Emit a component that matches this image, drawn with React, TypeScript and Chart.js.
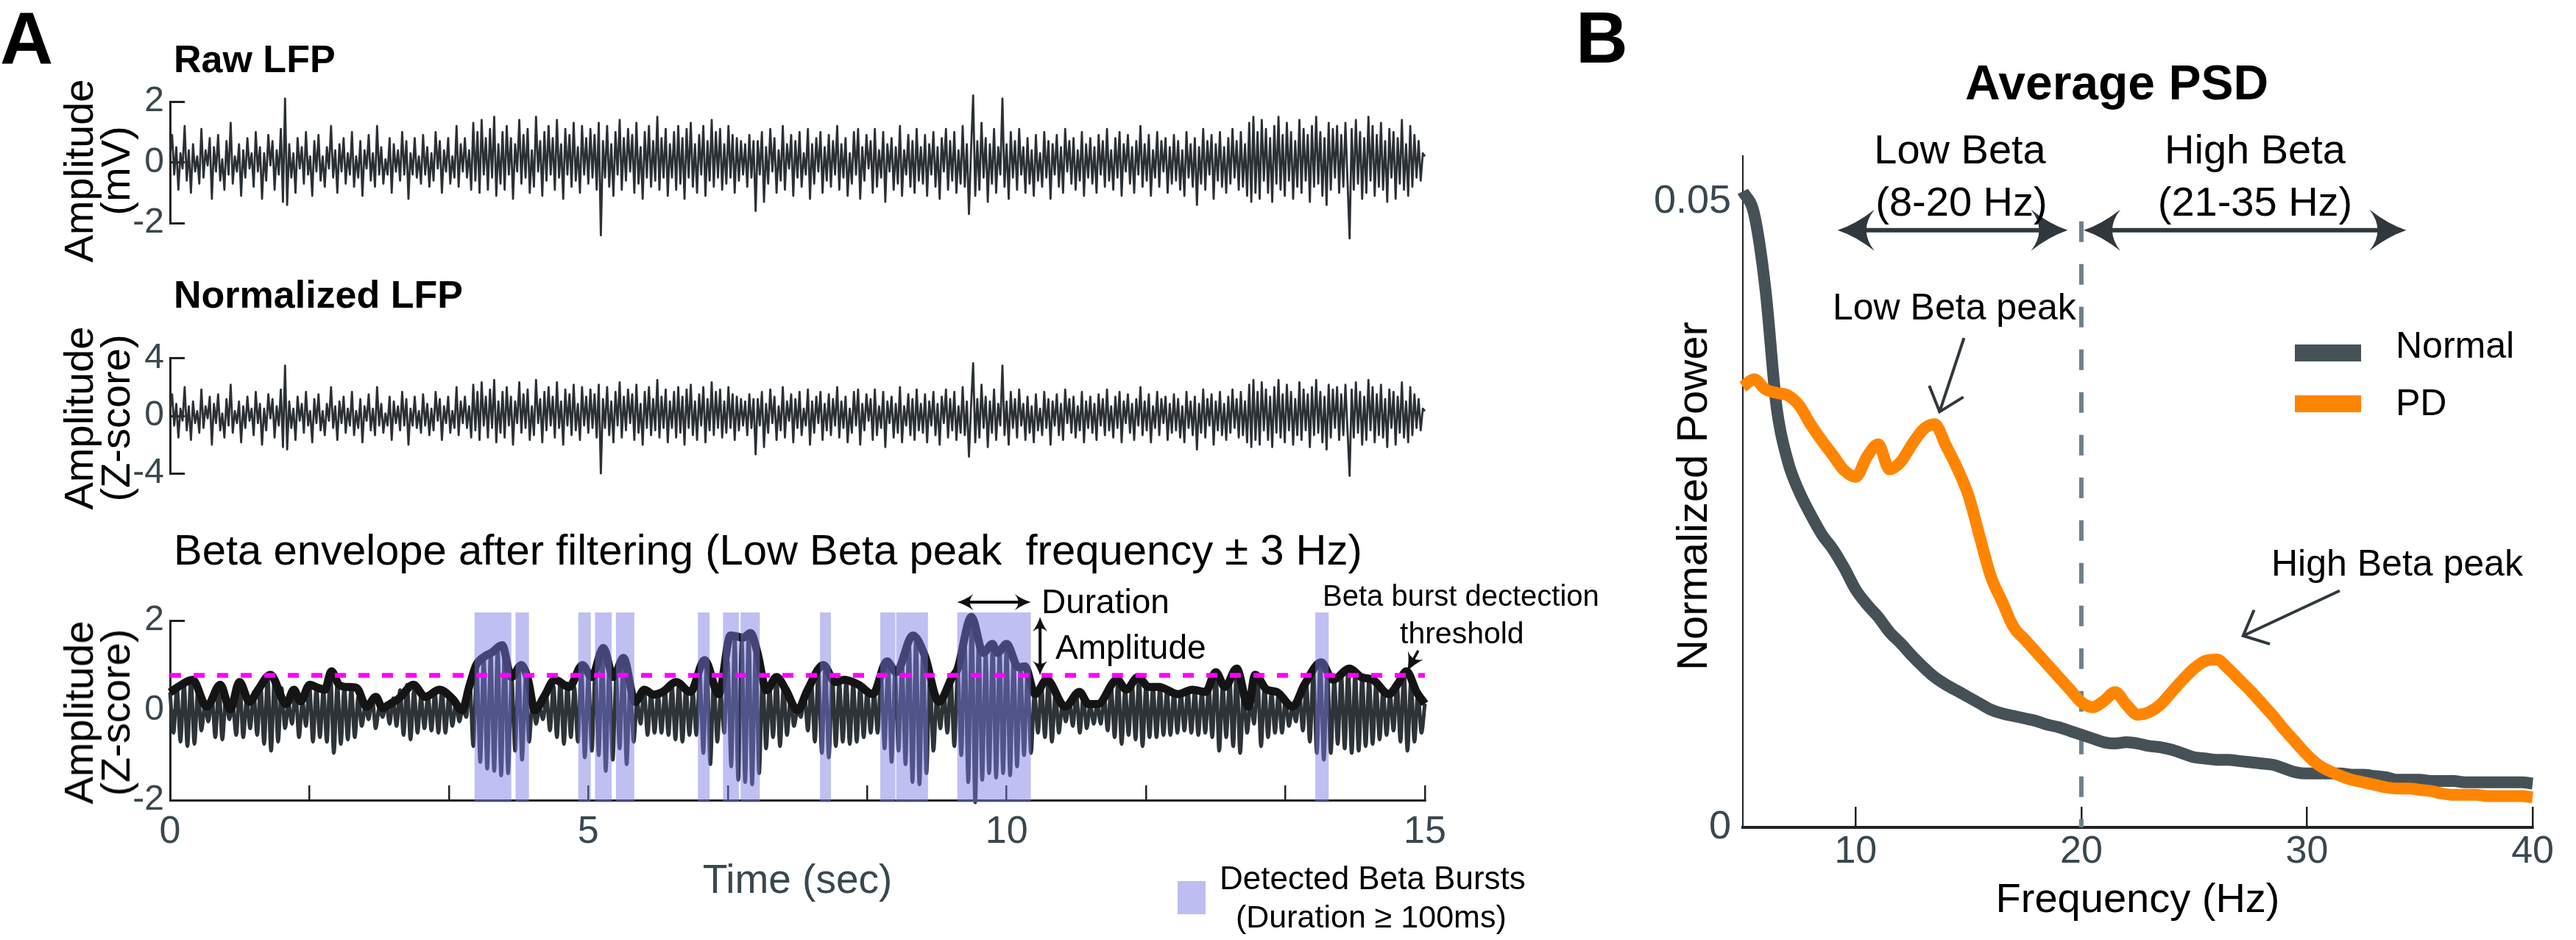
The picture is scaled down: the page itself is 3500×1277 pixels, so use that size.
import React, { useEffect, useRef } from 'react';
import { Chart, registerables } from 'chart.js';

Chart.register(...registerables);

const FONT = "'Liberation Sans', Arial, Helvetica, sans-serif";
const SLATE = '#3a474e';
const AXIS = '#1e2326';
const TRACE = '#2a3034';
const BURST = 'rgba(122,122,228,0.48)';
const BURST_SWATCH = '#bdbdf0';
const NORMAL_COLOR = '#465157';
const PD_COLOR = '#ff8500';
const ARROW = '#30383d';

// ================= Panel A data =================
// Raw LFP (mV), 40 samples per second over 0-15 s
const lfpRate = 40;
const lfpRaw = [
  0.2,0.9,-0.4,0.5,-0.9,0.3,-0.2,1.2,-0.6,0.4, -1.0,0.6,-0.3,0.2,-0.7,1.1,-0.5,0.4,-0.1,0.8,
  -1.2,0.5,-0.3,0.9,-0.6,0.1,-0.9,0.7,-0.4,1.3, -0.7,0.2,-0.3,0.6,-1.1,0.4,-0.5,0.8,-0.2,0.3,
  -0.8,1.0,-0.3,0.5,-1.2,0.3,-0.6,0.9,-0.1,0.7, -0.9,0.4,-0.4,1.1,-1.3,2.1,-1.4,0.6,-0.5,0.3,
  -1.0,0.8,-0.2,0.5,-0.7,1.0,-0.4,0.2,-1.1,0.7, -0.3,0.9,-0.6,0.2,-0.8,0.5,-0.2,1.2,-0.5,0.4,
  -1.0,0.6,-0.3,0.8,-0.7,0.3,-0.4,1.0,-0.8,0.2, -0.5,0.7,-1.1,0.4,-0.2,0.9,-0.6,0.3,-0.8,1.2,
  -0.4,0.5,-0.7,0.1,-0.4,0.8,-1.0,0.6,-0.3,0.4, -0.6,1.0,-0.4,0.7,-1.2,0.3,-0.4,0.8,-0.5,0.2,
  -0.7,0.9,-0.4,0.5,-0.8,0.3,-0.6,1.0,-0.2,0.7, -1.0,0.4,-0.3,0.8,-0.7,0.2,-0.5,1.2,-0.8,0.6,
  -0.3,0.8,-0.5,0.4,-0.9,1.3,-0.6,1.0,-1.0,1.4, -0.4,0.8,-0.9,1.1,-0.5,1.5,-1.1,0.6,-0.7,1.0,
  -0.9,1.2,-0.4,0.8,-1.2,0.6,-0.3,1.4,-0.7,0.9, -0.5,1.1,-1.0,0.4,-0.8,1.5,-0.3,0.7,-1.1,1.0,
  -0.6,1.2,-0.4,0.8,-0.9,1.4,-0.5,0.6,-1.2,1.1, -0.4,0.9,-0.8,1.3,-0.6,0.5,-1.0,1.2,-0.4,0.8,
  -0.7,1.1,-0.5,0.9,-0.9,1.3,-2.4,0.7,-0.5,1.2, -0.8,0.6,-1.1,1.0,-0.4,1.4,-0.9,0.8,-0.6,1.1,
  -0.3,0.9,-1.0,1.3,-0.7,0.5,-1.2,1.0,-0.5,1.2, -0.8,0.7,-0.6,1.5,-0.9,0.8,-0.5,1.1,-1.1,0.6,
  -0.5,1.0,-0.9,1.2,-0.7,0.8,-1.2,1.1,-0.5,1.3, -0.8,0.6,-1.0,0.9,-0.4,1.2,-1.1,0.7,-0.6,1.4,
  -0.8,1.0,-0.5,1.1,-0.9,0.6,-0.7,1.2,-0.5,0.9, -1.0,0.8,-0.6,0.7,-0.4,0.6,-0.8,0.9,-0.5,0.7,
  -1.6,0.7,-0.4,1.0,-1.3,0.5,-0.7,1.1,-0.3,0.8, -1.0,0.4,-0.6,1.2,-0.9,0.6,-0.2,0.9,-1.1,0.7,
  -0.5,1.0,-0.8,0.3,-0.4,1.1,-1.2,0.6,-0.7,0.8, -0.3,1.0,-1.0,0.5,-0.6,0.9,-0.8,0.7,-0.4,1.2,
  -0.9,0.6,-0.5,0.8,-1.1,0.3,-0.7,1.0,-0.4,1.1, -1.2,0.5,-0.6,0.9,-0.2,0.7,-1.0,1.1,-0.8,0.4,
  -0.5,1.0,-1.3,0.6,-0.3,0.8,-0.9,0.5,-0.7,1.2, -1.1,0.4,-0.4,0.9,-0.8,0.7,-1.0,1.1,-0.6,0.5,
  -0.7,0.9,-1.1,0.6,-0.4,1.0,-0.8,0.5,-1.2,0.8, -0.3,1.1,-0.9,0.7,-0.6,1.0,-1.0,0.4,-0.7,1.2,
  -0.8,0.6,-1.7,0.4,2.2,-1.1,0.7,-0.9,1.3,-0.5, 0.8,-1.3,0.6,-0.7,1.1,-1.0,0.5,-0.4,2.1,-0.8,
  0.6,-1.2,1.0,-0.5,0.7,-0.9,1.1,-0.4,0.5,-1.0, 0.8,-0.7,0.4,-1.1,0.9,-0.6,0.3,-0.8,1.0,-0.5,
  0.7,-1.2,0.6,-0.4,0.9,-0.8,0.5,-1.0,1.1,-0.3, 0.7,-0.7,0.8,-0.9,0.4,-0.6,1.0,-1.1,0.6,-0.5,
  0.8,-0.7,0.5,-1.0,0.9,-0.4,0.7,-0.8,1.1,-0.6, 0.4,-0.9,0.8,-0.5,1.0,-1.1,0.6,-0.3,0.9,-0.7,
  0.5,-1.0,0.7,-0.4,1.2,-0.8,0.6,-0.6,0.9,-1.1, 0.4,-0.5,1.0,-0.8,0.7,-0.3,0.8,-1.0,0.5,-0.7,
  0.9,-0.6,0.7,-0.9,0.4,-1.1,1.0,-0.5,0.6,-0.8, 0.8,-1.4,0.5,-0.7,1.1,-0.9,0.7,-0.4,0.9,-1.2,
  0.6,-0.6,1.0,-0.8,0.5,-1.0,0.8,-0.7,1.1,-0.5, 0.7,-0.9,1.0,-0.8,0.6,-1.1,1.3,-1.3,1.5,-1.0,
  1.0,-1.2,1.4,-0.6,1.1,-1.0,0.8,-1.3,1.2,-0.7, 1.5,-0.9,0.9,-1.1,1.3,-0.6,1.0,-1.2,0.7,-0.8,
  1.4,-1.0,1.1,-0.6,0.9,-1.3,1.2,-0.8,1.5,-0.7, 1.0,-1.1,0.8,-1.4,1.3,-0.9,1.1,-0.5,1.2,-1.0,
  0.9,-0.8,1.3,-0.6,-2.5,1.1,-0.9,1.4,-0.7,1.0, -1.2,0.8,-1.0,1.5,-0.6,1.2,-1.1,0.9,-0.8,1.3,
  -0.9,0.7,-1.3,1.1,-0.5,1.0,-1.2,0.8,-0.7,1.4, -0.9,0.6,-1.1,1.2,-0.8,0.9,-0.5,0.7,-0.6,0.3,
  0.2,
];
// Normalized LFP = z-score of the raw LFP (std of raw trace in mV)
const lfpMean = 0;
const lfpStd = 0.6;
const lfpNorm = lfpRaw.map((v) => (v - lfpMean) / lfpStd);

const rawTicks = [-2, 0, 2];
const normTicks = [-4, 0, 4];
const betaTicks = [-2, 0, 2];
const timeTicks = [0, 5 / 3, 10 / 3, 5, 20 / 3, 25 / 3, 10, 35 / 3, 40 / 3, 15];
const timeTickLabels = ['0', '', '', '5', '', '', '10', '', '', '15'];

// Beta-filtered signal: successive peaks / troughs (≈12 Hz → 24 extrema per second)
const betaRate = 24;
const betaFiltered = [
  .4,-.5,.5,-.7,.6,-.8,.68,-.75,.45,-.45,.12,-.25,.3,-.6,.57,-.65,.25,-.2,.1,-.55,.6,-.6,.25,-.4,
  .4,-.55,.55,-.75,.75,-.9,.79,-.7,.5,-.4,.14,-.3,.46,-.6,.2,-.35,.57,-.7,.5,-.6,.46,-.7,.87,-.95,
  .6,-.75,.52,-.65,.5,-.6,.3,-.35,.08,-.2,.3,-.4,.05,-.15,.15,-.3,.27,-.35,.45,-.55,.57,-.65,.45,-.5,
  .3,-.4,.35,-.45,.4,-.5,.46,-.5,.3,-.35,.15,-.25,.05,-.15,.6,-.8,1.0,-1.15,1.2,-1.3,1.28,-1.35,1.42,-1.45,
  1.35,-1.4,.74,-.9,1.0,-1.1,.68,-.7,.2,-.3,.05,-.2,.3,-.45,.55,-.6,.68,-.75,.6,-.6,.52,-.7,.95,-1.05,
  .8,-.9,.9,-1.0,1.39,-1.35,1.0,-1.1,.74,-.85,1.17,-1.2,.6,-.7,.19,-.3,.46,-.55,.4,-.5,.38,-.5,.45,-.55,
  .55,-.65,.63,-.7,.5,-.55,.41,-.55,.8,-.95,1.12,-1.2,.7,-.7,.36,-.5,1.1,-1.25,1.6,-1.55,1.6,-1.6,1.72,-1.65,
  1.4,-1.4,.8,-.85,.5,-.6,.74,-.8,.5,-.55,.25,-.35,0,-.15,.35,-.45,.6,-.7,.85,-.95,1.0,-1.05,.75,-.8,
  .65,-.7,.68,-.75,.62,-.7,.55,-.6,.45,-.5,.4,-.5,.75,-.85,1.09,-1.15,.85,-.9,1.1,-1.2,1.55,-1.6,1.6,-1.65,
  1.3,-1.4,.8,-.9,.3,-.4,.4,-.5,.7,-.8,.9,-1.0,1.5,-1.6,2.08,-2.05,1.6,-1.55,1.3,-1.4,1.48,-1.5,1.35,-1.4,
  1.48,-1.45,1.2,-1.25,.96,-1.0,.9,-.95,.38,-.5,.55,-.6,.65,-.7,.4,-.5,.12,-.25,.2,-.35,.38,-.5,.3,-.4,
  .14,-.3,.14,-.3,.3,-.45,.5,-.6,.68,-.75,.48,-.55,.6,-.65,.74,-.8,.55,-.6,.52,-.6,.52,-.55,.45,-.55,
  .4,-.5,.38,-.45,.43,-.5,.45,-.55,.42,-.5,.5,-.6,.85,-.9,.55,-.6,.7,-.8,.93,-.95,.4,-.5,.2,-.3,
  .75,-.8,.55,-.6,.43,-.5,.38,-.5,.25,-.35,.08,-.25,.35,-.45,.6,-.7,.85,-.95,1.07,-1.1,.9,-.95,.68,-.75,
  .8,-.85,.93,-.95,.85,-.9,.74,-.8,.7,-.75,.6,-.65,.45,-.55,.36,-.45,.6,-.7,.85,-.9,.65,-.7,.41,-.5,
  .15,
];

// Beta envelope: [time (s), z-score]
const betaEnvelope = [
  [0,0.40],[0.12,0.55],[0.27,0.68],[0.44,0.08],[0.6,0.57],[0.72,0.02],[0.83,0.63],[0.95,0.19],[1.05,0.45],[1.2,0.79],
  [1.39,0.14],[1.48,0.46],[1.56,0.2],[1.67,0.57],[1.77,0.5],[1.85,0.46],[1.93,0.87],[2.02,0.57],[2.12,0.52],[2.23,0.5],
  [2.35,0.08],[2.46,0.3],[2.54,0.05],[2.64,0.15],[2.74,0.27],[2.91,0.57],[3.05,0.3],[3.22,0.46],[3.38,0.25],[3.49,0.0],
  [3.58,0.55],[3.66,1.01],[3.76,1.2],[3.84,1.28],[3.97,1.45],[4.08,0.74],[4.2,1.01],[4.28,0.68],[4.36,0.0],[4.47,0.3],
  [4.6,0.68],[4.77,0.52],[4.93,1.01],[5.04,0.74],[5.18,1.39],[5.3,0.74],[5.42,1.17],[5.56,0.19],[5.67,0.46],[5.78,0.35],
  [5.89,0.41],[6.05,0.63],[6.22,0.41],[6.39,1.12],[6.56,0.36],[6.7,1.67],[6.85,1.62],[6.94,1.72],[7.02,1.3],[7.13,0.45],
  [7.25,0.74],[7.36,0.46],[7.5,0.0],[7.62,0.45],[7.81,1.01],[7.95,0.63],[8.06,0.68],[8.23,0.57],[8.4,0.36],[8.57,1.09],
  [8.68,0.85],[8.88,1.67],[9.02,1.23],[9.19,0.19],[9.35,0.74],[9.41,0.9],[9.58,2.08],[9.72,1.28],[9.83,1.48],[9.89,1.28],
  [10.0,1.48],[10.14,0.96],[10.22,0.98],[10.34,0.36],[10.48,0.68],[10.7,0.08],[10.87,0.41],[10.98,0.14],[11.09,0.14],[11.32,0.68],
  [11.43,0.46],[11.57,0.74],[11.7,0.52],[11.82,0.52],[12.05,0.36],[12.22,0.46],[12.38,0.41],[12.5,0.85],[12.61,0.52],[12.75,0.93],
  [12.89,0.08],[12.97,0.79],[13.11,0.46],[13.23,0.41],[13.42,0.08],[13.56,0.57],[13.76,1.07],[13.9,0.68],[14.1,0.93],[14.24,0.74],
  [14.38,0.68],[14.57,0.36],[14.68,0.6],[14.78,0.87],[14.9,0.41],[15,0.15],
];

const burstThreshold = 0.78;
// Detected beta bursts [start s, end s]
const bursts = [
  [3.64,4.08],[4.13,4.29],[4.88,5.03],[5.08,5.28],[5.33,5.55],[6.31,6.45],[6.61,6.80],
  [6.82,7.05],[7.77,7.90],[8.49,8.67],[8.68,9.06],[9.41,10.29],[13.69,13.85],
];
const durationBurst = 11;
const durationArrowLevel = 2.41;
const amplitudeArrowTime = 10.4;
const burstTop = 2.18;
const thresholdPointer = { tail: [14.92, 1.33], tip: [14.79, 0.88] };

// ================= Panel B data =================
const psdFreq = [
  5,5.5,6,6.5,7,7.5,8,8.5,9,9.5, 10,10.5,11,11.5,12,12.5,13,13.5,14,14.5,
  15,15.5,16,16.5,17,17.5,18,18.5,19,19.5, 20,20.5,21,21.5,22,22.5,23,23.5,24,24.5,
  25,25.5,26,26.5,27,27.5,28,28.5,29,29.5, 30,30.5,31,31.5,32,32.5,33,33.5,34,34.5,
  35,35.5,36,36.5,37,37.5,38,38.5,39,39.5, 40,
];
const psdNormal = [
  .0508,.0490,.0430,.0335,.0292,.0268,.0250,.0234,.0222,.0207, .0190,.0178,.0168,.0156,.0147,.0137,.0128,.0120,.0114,.0109,
  .0104,.0099,.0094,.0091,.0089,.0087,.0085,.0082,.0080,.0077, .0074,.0071,.0068,.0067,.0068,.0067,.0065,.0064,.0062,.0059,
  .0056,.0055,.0054,.0054,.0053,.0052,.0051,.0050,.0047,.0044, .0043,.0043,.0043,.0043,.0042,.0042,.0041,.0040,.0038,.0038,
  .0038,.0037,.0037,.0037,.0036,.0036,.0036,.0036,.0036,.0036, .0035,
];
const psdPD = [
  .0352,.0358,.0350,.0347,.0345,.0337,.0322,.0309,.0297,.0285, .0280,.0296,.0306,.0286,.0292,.0306,.0318,.0322,.0305,.0287,
  .0265,.0232,.0200,.0180,.0160,.0150,.0140,.0130,.0120,.0110, .0100,.0096,.0101,.0108,.0098,.0090,.0092,.0098,.0108,.0118,
  .0127,.0133,.0134,.0127,.0118,.0109,.0099,.0089,.0078,.0068, .0058,.0050,.0045,.0041,.0038,.0036,.0034,.0032,.0031,.0031,
  .0030,.0029,.0027,.0026,.0026,.0026,.0025,.0025,.0025,.0025, .0024,
];
const freqTicks = [10, 20, 30, 40];
const powerTicks = [0, 0.05];
const bandDivider = 20;
const dividerTop = 0.0484;
const rangeArrowLevel = 0.0477;
const lowBetaRange = [9.2, 19.4];
const highBetaRange = [20.1, 34.4];
const lowPeakArrow = { tail: [14.8, 0.0391], tip: [13.72, 0.0332] };
const highPeakArrow = { tail: [31.45, 0.0189], tip: [27.17, 0.0153] };

// ================= drawing helpers =================
function arrowHead(ctx: CanvasRenderingContext2D, x: number, y: number, ang: number, len: number, hw: number) {
  ctx.save();
  ctx.translate(x, y);
  ctx.rotate(ang);
  ctx.beginPath();
  ctx.moveTo(0, 0);
  ctx.quadraticCurveTo(-len * 0.5, -hw * 0.3, -len, -hw);
  ctx.quadraticCurveTo(-len * 0.56, 0, -len, hw);
  ctx.quadraticCurveTo(-len * 0.5, hw * 0.3, 0, 0);
  ctx.closePath();
  ctx.fill();
  ctx.restore();
}

function doubleArrow(ctx: CanvasRenderingContext2D, x1: number, y1: number, x2: number, y2: number, lw: number, len: number, hw: number, color: string) {
  const ang = Math.atan2(y2 - y1, x2 - x1);
  ctx.save();
  ctx.strokeStyle = color;
  ctx.fillStyle = color;
  ctx.lineWidth = lw;
  const dx = Math.cos(ang) * len * 0.6;
  const dy = Math.sin(ang) * len * 0.6;
  ctx.beginPath();
  ctx.moveTo(x1 + dx, y1 + dy);
  ctx.lineTo(x2 - dx, y2 - dy);
  ctx.stroke();
  arrowHead(ctx, x2, y2, ang, len, hw);
  arrowHead(ctx, x1, y1, ang + Math.PI, len, hw);
  ctx.restore();
}

function singleArrow(ctx: CanvasRenderingContext2D, tx: number, ty: number, hx: number, hy: number, lw: number, len: number, hw: number, color: string) {
  const ang = Math.atan2(hy - ty, hx - tx);
  ctx.save();
  ctx.strokeStyle = color;
  ctx.fillStyle = color;
  ctx.lineWidth = lw;
  ctx.beginPath();
  ctx.moveTo(tx, ty);
  ctx.lineTo(hx - Math.cos(ang) * len * 0.6, hy - Math.sin(ang) * len * 0.6);
  ctx.stroke();
  arrowHead(ctx, hx, hy, ang, len, hw);
  ctx.restore();
}

function openArrow(ctx: CanvasRenderingContext2D, tx: number, ty: number, hx: number, hy: number, lw: number, len: number, spreadDeg: number, color: string) {
  const ang = Math.atan2(hy - ty, hx - tx);
  const s = (spreadDeg * Math.PI) / 180;
  ctx.save();
  ctx.strokeStyle = color;
  ctx.lineWidth = lw;
  ctx.lineJoin = 'miter';
  ctx.beginPath();
  ctx.moveTo(tx, ty);
  ctx.lineTo(hx, hy);
  ctx.stroke();
  ctx.beginPath();
  ctx.moveTo(hx - len * Math.cos(ang - s), hy - len * Math.sin(ang - s));
  ctx.lineTo(hx, hy);
  ctx.lineTo(hx - len * Math.cos(ang + s), hy - len * Math.sin(ang + s));
  ctx.stroke();
  ctx.restore();
}

function lineDs(data: any[], color: string, width: number, extra: any = {}) {
  return {
    data,
    borderColor: color,
    borderWidth: width,
    pointRadius: 0,
    pointHoverRadius: 0,
    fill: false,
    clip: false,
    borderJoinStyle: 'round',
    ...extra,
  };
}

function baseOptions(padding: any, scales: any) {
  return {
    animation: false,
    responsive: false,
    maintainAspectRatio: false,
    devicePixelRatio: 1,
    events: [],
    layout: { padding },
    plugins: { legend: { display: false }, tooltip: { enabled: false }, title: { display: false } },
    scales,
  };
}

function yAxis(min: number, max: number, ticks: number[], width: number, tickLen: number, gap: number, fontSize: number, borderW: number) {
  return {
    type: 'linear',
    min,
    max,
    afterBuildTicks: (s: any) => {
      s.ticks = ticks.map((v) => ({ value: v }));
    },
    afterFit: (s: any) => {
      s.width = width;
    },
    border: { display: true, color: AXIS, width: borderW },
    grid: { drawOnChartArea: false, tickLength: -tickLen, color: AXIS, lineWidth: 3 },
    ticks: {
      padding: gap + tickLen,
      color: SLATE,
      font: { family: FONT, size: fontSize },
      callback: (v: number) => String(v),
    },
  };
}

// ================= plugins =================
const betaPlugin = {
  id: 'betaAnnot',
  afterDatasetDraw(chart: any, args: any) {
    if (args.index !== 1) return;
    const { ctx } = chart;
    const x = chart.scales.x;
    const y = chart.scales.y;
    ctx.save();
    ctx.fillStyle = BURST;
    const top = y.getPixelForValue(burstTop);
    const bot = y.getPixelForValue(-2) + 3;
    for (const [a, b] of bursts) {
      const x0 = x.getPixelForValue(a);
      const x1 = x.getPixelForValue(b);
      ctx.fillRect(x0, top, x1 - x0, bot - top);
    }
    ctx.restore();
  },
  afterDraw(chart: any) {
    const { ctx } = chart;
    const x = chart.scales.x;
    const y = chart.scales.y;
    const [ds, de] = bursts[durationBurst];
    const yD = y.getPixelForValue(durationArrowLevel);
    doubleArrow(ctx, x.getPixelForValue(ds), yD, x.getPixelForValue(de), yD, 4, 22, 11, '#111');
    let peak = 0;
    for (const [t, v] of betaEnvelope) if (t >= ds && t <= de && v > peak) peak = v;
    const xa = x.getPixelForValue(amplitudeArrowTime);
    doubleArrow(ctx, xa, y.getPixelForValue(peak), xa, y.getPixelForValue(burstThreshold), 4, 20, 10, '#111');
    singleArrow(
      ctx,
      x.getPixelForValue(thresholdPointer.tail[0]),
      y.getPixelForValue(thresholdPointer.tail[1]),
      x.getPixelForValue(thresholdPointer.tip[0]),
      y.getPixelForValue(thresholdPointer.tip[1]),
      3.5, 24, 12, '#111'
    );
  },
};

const psdPlugin = {
  id: 'psdAnnot',
  beforeDatasetsDraw(chart: any) {
    const { ctx } = chart;
    const x = chart.scales.x;
    const y = chart.scales.y;
    const px = x.getPixelForValue(bandDivider);
    ctx.save();
    ctx.strokeStyle = '#6d8087';
    ctx.lineWidth = 6;
    ctx.setLineDash([28, 30]);
    ctx.beginPath();
    ctx.moveTo(px, y.getPixelForValue(dividerTop));
    ctx.lineTo(px, y.getPixelForValue(0));
    ctx.stroke();
    ctx.restore();
  },
  afterDatasetsDraw(chart: any) {
    const { ctx } = chart;
    const x = chart.scales.x;
    const y = chart.scales.y;
    const ya = y.getPixelForValue(rangeArrowLevel);
    doubleArrow(ctx, x.getPixelForValue(lowBetaRange[0]), ya, x.getPixelForValue(lowBetaRange[1]), ya, 6, 50, 28, ARROW);
    doubleArrow(ctx, x.getPixelForValue(highBetaRange[0]), ya, x.getPixelForValue(highBetaRange[1]), ya, 6, 50, 28, ARROW);
    openArrow(
      ctx,
      x.getPixelForValue(lowPeakArrow.tail[0]), y.getPixelForValue(lowPeakArrow.tail[1]),
      x.getPixelForValue(lowPeakArrow.tip[0]), y.getPixelForValue(lowPeakArrow.tip[1]),
      4, 38, 40, ARROW
    );
    openArrow(
      ctx,
      x.getPixelForValue(highPeakArrow.tail[0]), y.getPixelForValue(highPeakArrow.tail[1]),
      x.getPixelForValue(highPeakArrow.tip[0]), y.getPixelForValue(highPeakArrow.tip[1]),
      4, 38, 42, ARROW
    );
  },
};

// ================= text helpers =================
function T(props: { x: number; y: number; s: number; text: string; bold?: boolean; color?: string; center?: boolean }) {
  const { x, y, s, text, bold, color, center } = props;
  return (
    <div
      style={{
        position: 'absolute',
        left: x,
        top: y - 0.8465 * s,
        fontSize: s,
        lineHeight: `${s}px`,
        fontFamily: FONT,
        fontWeight: bold ? 700 : 400,
        color: color || '#000',
        whiteSpace: 'pre',
        transform: center ? 'translateX(-50%)' : undefined,
      }}
    >
      {text}
    </div>
  );
}

function R(props: { cx: number; cy: number; s: number; lh: number; lines: string[] }) {
  const { cx, cy, s, lh, lines } = props;
  return (
    <div
      style={{
        position: 'absolute',
        left: cx,
        top: cy,
        transform: 'translate(-50%, -50%) rotate(-90deg)',
        fontFamily: FONT,
        fontSize: s,
        lineHeight: `${lh}px`,
        textAlign: 'center',
        whiteSpace: 'pre',
        color: '#000',
      }}
    >
      {lines.join('\n')}
    </div>
  );
}

function Box(props: { x: number; y: number; w: number; h: number; c: string }) {
  return <div style={{ position: 'absolute', left: props.x, top: props.y, width: props.w, height: props.h, background: props.c }} />;
}

export default function App() {
  const rawRef = useRef<HTMLCanvasElement>(null);
  const normRef = useRef<HTMLCanvasElement>(null);
  const betaRef = useRef<HTMLCanvasElement>(null);
  const psdRef = useRef<HTMLCanvasElement>(null);

  useEffect(() => {
    Chart.defaults.font.family = FONT;
    const charts: Chart[] = [];

    charts.push(
      new Chart(rawRef.current as HTMLCanvasElement, {
        type: 'line',
        data: { datasets: [lineDs(lfpRaw.map((v, i) => ({ x: i / lfpRate, y: v })), TRACE, 2.8) as any] },
        options: baseOptions({ top: 138, bottom: 37, left: 0, right: 64 }, {
          x: { type: 'linear', min: 0, max: 15, display: false },
          y: yAxis(-2, 2, rawTicks, 231, 20, 8, 48, 3),
        }) as any,
      })
    );

    charts.push(
      new Chart(normRef.current as HTMLCanvasElement, {
        type: 'line',
        data: { datasets: [lineDs(lfpNorm.map((v, i) => ({ x: i / lfpRate, y: v })), TRACE, 2.8) as any] },
        options: baseOptions({ top: 36, bottom: 29, left: 0, right: 64 }, {
          x: { type: 'linear', min: 0, max: 15, display: false },
          y: yAxis(-4, 4, normTicks, 231, 20, 8, 48, 3),
        }) as any,
      })
    );

    charts.push(
      new Chart(betaRef.current as HTMLCanvasElement, {
        type: 'line',
        data: {
          datasets: [
            lineDs([{ x: 0, y: burstThreshold }, { x: 15, y: burstThreshold }], '#ff00ff', 6.5, { borderDash: [15, 17], borderCapStyle: 'butt', order: 0 }) as any,
            lineDs(betaEnvelope.map(([t, v]) => ({ x: t, y: v })), '#141414', 11, { cubicInterpolationMode: 'monotone', order: 1 }) as any,
            lineDs(betaFiltered.map((v, i) => ({ x: i / betaRate, y: v })), '#2d3337', 5, { cubicInterpolationMode: 'monotone', order: 2 }) as any,
          ],
        },
        options: baseOptions({ top: 63, bottom: 0, left: 0, right: 64 }, {
          x: {
            type: 'linear',
            min: 0,
            max: 15,
            afterBuildTicks: (s: any) => {
              s.ticks = timeTicks.map((v) => ({ value: v }));
            },
            afterFit: (s: any) => {
              s.height = 190;
            },
            border: { display: true, color: AXIS, width: 3 },
            grid: { drawOnChartArea: false, tickLength: -20, color: AXIS, lineWidth: 2.5 },
            ticks: {
              padding: 32,
              autoSkip: false,
              maxRotation: 0,
              color: SLATE,
              font: { family: FONT, size: 52 },
              callback: (_v: number, i: number) => timeTickLabels[i],
            },
            title: { display: true, text: 'Time (sec)', color: SLATE, font: { family: FONT, size: 55 }, padding: { top: 0, bottom: 46 } },
          },
          y: yAxis(-2, 2, betaTicks, 231, 20, 8, 48, 3),
        }) as any,
        plugins: [betaPlugin as any],
      })
    );

    charts.push(
      new Chart(psdRef.current as HTMLCanvasElement, {
        type: 'line',
        data: {
          datasets: [
            lineDs(psdFreq.map((f, i) => ({ x: f, y: psdNormal[i] })), NORMAL_COLOR, 16, { cubicInterpolationMode: 'monotone', order: 1, label: 'Normal' }) as any,
            lineDs(psdFreq.map((f, i) => ({ x: f, y: psdPD[i] })), PD_COLOR, 16, { cubicInterpolationMode: 'monotone', order: 0, label: 'PD' }) as any,
          ],
        },
        options: baseOptions({ top: 61, bottom: 0, left: 0, right: 36 }, {
          x: {
            type: 'linear',
            min: 5,
            max: 40,
            afterBuildTicks: (s: any) => {
              s.ticks = freqTicks.map((v) => ({ value: v }));
            },
            afterFit: (s: any) => {
              s.height = 153;
            },
            border: { display: true, color: AXIS, width: 4 },
            grid: { drawOnChartArea: false, tickLength: -28, color: AXIS, lineWidth: 2.5 },
            ticks: { padding: 30, autoSkip: false, maxRotation: 0, color: SLATE, font: { family: FONT, size: 52 }, callback: (v: number) => String(v) },
            title: { display: true, text: 'Frequency (Hz)', color: '#000', font: { family: FONT, size: 56 }, padding: { top: 0, bottom: 20 } },
          },
          y: yAxis(0, 0.0536, powerTicks, 218, 14, 16, 54, 2),
        }) as any,
        plugins: [psdPlugin as any],
      })
    );

    return () => charts.forEach((c) => c.destroy());
  }, []);

  return (
    <div style={{ position: 'absolute', left: 0, top: 0, width: 3500, height: 1277, background: '#fff', overflow: 'hidden' }}>
      <canvas ref={rawRef} width={2000} height={360} style={{ position: 'absolute', left: 0, top: 0 }} />
      <canvas ref={normRef} width={2000} height={270} style={{ position: 'absolute', left: 0, top: 430 }} />
      <canvas ref={betaRef} width={2000} height={497} style={{ position: 'absolute', left: 0, top: 780 }} />
      <canvas ref={psdRef} width={1350} height={1127} style={{ position: 'absolute', left: 2150, top: 150 }} />

      {/* Panel A text */}
      <T x={0} y={87} s={100} bold text="A" />
      <T x={236} y={98} s={52} bold text="Raw LFP" />
      <T x={236} y={418} s={52} bold text="Normalized LFP" />
      <T x={236} y={767} s={58} text="Beta envelope after filtering (Low Beta peak  frequency ± 3 Hz)" />
      <R cx={132} cy={232} s={56} lh={50} lines={['Amplitude', '(mV)']} />
      <R cx={132} cy={568} s={56} lh={50} lines={['Amplitude', '(Z-score)']} />
      <R cx={132} cy={968} s={56} lh={50} lines={['Amplitude', '(Z-score)']} />
      <T x={1415} y={833} s={46} text="Duration" />
      <T x={1434} y={895} s={46} text="Amplitude" />
      <T x={1797} y={823} s={40} text="Beta burst dectection" />
      <T x={1902} y={875} s={41} text="threshold" />
      <Box x={1600} y={1197} w={38} h={45} c={BURST_SWATCH} />
      <T x={1657} y={1208} s={44} text="Detected Beta Bursts" />
      <T x={1679} y={1260} s={43} text="(Duration ≥ 100ms)" />

      {/* Panel B text */}
      <T x={2141} y={85} s={98} bold text="B" />
      <T x={2670} y={135} s={66} bold text="Average PSD" />
      <T x={2663} y={222} s={56} center text="Low Beta" />
      <T x={2665} y={293} s={56} center text="(8-20 Hz)" />
      <T x={3064} y={222} s={56} center text="High Beta" />
      <T x={3064} y={293} s={56} center text="(21-35 Hz)" />
      <T x={2490} y={434} s={50} text="Low Beta peak" />
      <T x={3086} y={782} s={50} text="High Beta peak" />
      <R cx={2299} cy={674} s={58} lh={60} lines={['Normalized Power']} />
      <Box x={3118} y={468} w={90} h={23} c={NORMAL_COLOR} />
      <T x={3255} y={486} s={50} text="Normal" />
      <Box x={3118} y={537} w={90} h={23} c={PD_COLOR} />
      <T x={3255} y={564} s={50} text="PD" />
    </div>
  );
}
